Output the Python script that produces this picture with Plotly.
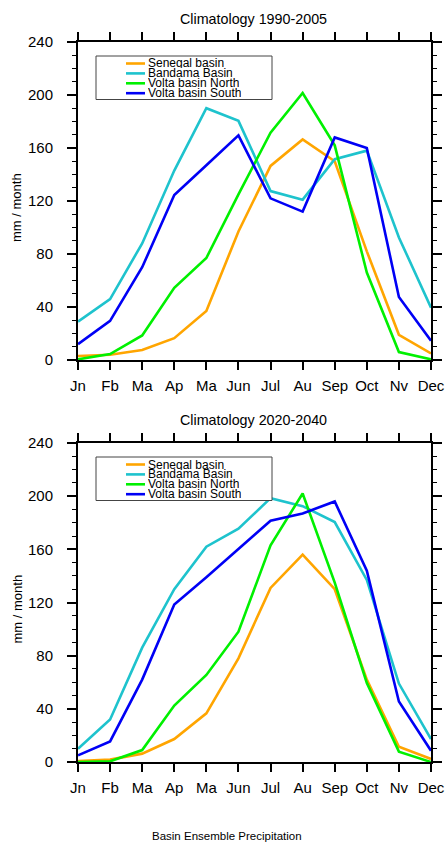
import plotly.graph_objects as go

W, H = 446, 842

months = ["Jn", "Fb", "Ma", "Ap", "Ma", "Jun", "Jul", "Au", "Sep", "Oct", "Nv", "Dec"]
month_idx = list(range(12))

series_names = ["Senegal basin", "Bandama Basin", "Volta basin North", "Volta basin South"]
series_colors = ["#FFA500", "#1EC3CD", "#00F000", "#0000F5"]

# Climatology 1990-2005 (mm / month)
senegal_1990 = [3, 4, 7.5, 16.5, 37, 97, 146.5, 166.5, 150, 82, 19, 5]
bandama_1990 = [29, 46, 88, 143, 190, 180.5, 127.5, 121, 151.5, 158, 92.5, 39.5]
voltaN_1990 = [0.5, 4.5, 18.5, 54.5, 77, 125, 171.5, 201.5, 162, 66, 6, 0.5]
voltaS_1990 = [12, 29.5, 70, 124.5, 147, 169.5, 122, 112, 168, 160, 47.5, 14.5]

# Climatology 2020-2040 (mm / month)
senegal_2020 = [0.8, 1.8, 6.3, 17.3, 36.6, 78, 131, 156, 130, 62, 11.5, 2.3]
bandama_2020 = [10, 32, 86, 130, 162, 175.5, 198.5, 192.5, 180.5, 137, 59, 17.3]
voltaN_2020 = [0, 0.5, 9, 42.5, 65.5, 98, 163, 202, 135, 59.5, 7.8, 0]
voltaS_2020 = [5, 15.5, 62, 118.5, 139, 160, 181.5, 187, 196, 144, 45.5, 8.5]

panels = [
    ("Climatology 1990-2005", [senegal_1990, bandama_1990, voltaN_1990, voltaS_1990]),
    ("Climatology 2020-2040", [senegal_2020, bandama_2020, voltaN_2020, voltaS_2020]),
]
y_ticks = [0, 40, 80, 120, 160, 200, 240]
caption = "Basin Ensemble Precipitation"
y_title = "mm / month"

# layout geometry (pixels)
x_left, x_right = 78, 431
panel_px = [(42, 360), (443, 762)]  # (top, bottom)


def px_x(p):
    return p / W


def px_y(p):
    return 1 - p / H


fig = go.Figure()
shapes = []
annotations = []
FONT = "Liberation Sans, Arial, Helvetica, sans-serif"

for k, (title, data) in enumerate(panels):
    top, bot = panel_px[k]
    xa = "x" if k == 0 else "x2"
    ya = "y" if k == 0 else "y2"
    for name, color, vals in zip(series_names, series_colors, data):
        fig.add_trace(go.Scatter(
            x=month_idx, y=vals, mode="lines", name=name,
            line=dict(color=color, width=2.6),
            xaxis=xa, yaxis=ya, showlegend=False,
        ))
    axis_common = dict(
        showline=True, linecolor="black", linewidth=2, mirror="ticks",
        ticks="outside", tickcolor="black", tickwidth=1.5,
        showgrid=False, zeroline=False, automargin=False,
        tickfont=dict(family=FONT, size=15, color="black"),
    )
    xkey = "xaxis" if k == 0 else "xaxis2"
    ykey = "yaxis" if k == 0 else "yaxis2"
    fig.update_layout(**{
        xkey: dict(
            domain=[px_x(x_left), px_x(x_right)], anchor=ya,
            range=[0, 11], tickvals=month_idx, ticktext=months,
            ticklen=8, ticklabelstandoff=3, **axis_common,
        ),
        ykey: dict(
            domain=[px_y(bot), px_y(top)], anchor=xa,
            range=[0, 240], tickvals=y_ticks, ticklen=9,
            ticklabelstandoff=11,
            minor=dict(dtick=10, ticklen=4, ticks="outside", tickcolor="black", tickwidth=1),
            **axis_common,
        ),
    })
    # title
    annotations.append(dict(
        text=title, x=px_x(253), y=px_y(top - 23), xref="paper", yref="paper",
        showarrow=False, font=dict(family=FONT, size=14.3, color="black"),
        xanchor="center", yanchor="middle",
    ))
    # y axis title
    annotations.append(dict(
        text=y_title, x=px_x(17), y=px_y((top + bot) / 2 + 7), xref="paper", yref="paper",
        showarrow=False, textangle=-90, font=dict(family=FONT, size=13, color="black"),
        xanchor="center", yanchor="middle",
    ))
    # legend box
    box_top = top + 14
    shapes.append(dict(
        type="rect", xref="paper", yref="paper",
        x0=px_x(96), x1=px_x(272), y0=px_y(box_top), y1=px_y(box_top + 43.5),
        line=dict(color="#444444", width=1), fillcolor="white",
    ))
    for i, (name, color) in enumerate(zip(series_names, series_colors)):
        yy = box_top + 7.5 + i * 9.9
        shapes.append(dict(
            type="line", xref="paper", yref="paper",
            x0=px_x(126), x1=px_x(145), y0=px_y(yy), y1=px_y(yy),
            line=dict(color=color, width=2.6),
        ))
        annotations.append(dict(
            text=name, x=px_x(145.5), y=px_y(yy), xref="paper", yref="paper",
            showarrow=False, font=dict(family=FONT, size=12, color="black"),
            xanchor="left", yanchor="middle", height=10,
        ))

annotations.append(dict(
    text=caption, x=px_x(227), y=px_y(836), xref="paper", yref="paper",
    showarrow=False, font=dict(family=FONT, size=11.5, color="black"),
    xanchor="center", yanchor="middle",
))

fig.update_layout(
    width=W, height=H, template="none",
    margin=dict(l=0, r=0, t=0, b=0, autoexpand=False),
    paper_bgcolor="white", plot_bgcolor="white",
    shapes=shapes, annotations=annotations,
    showlegend=False,
)

fig.write_html(
    "out.html",
    config={"displayModeBar": False},
    post_script="document.body.style.margin='0';document.body.style.padding='0';",
)
